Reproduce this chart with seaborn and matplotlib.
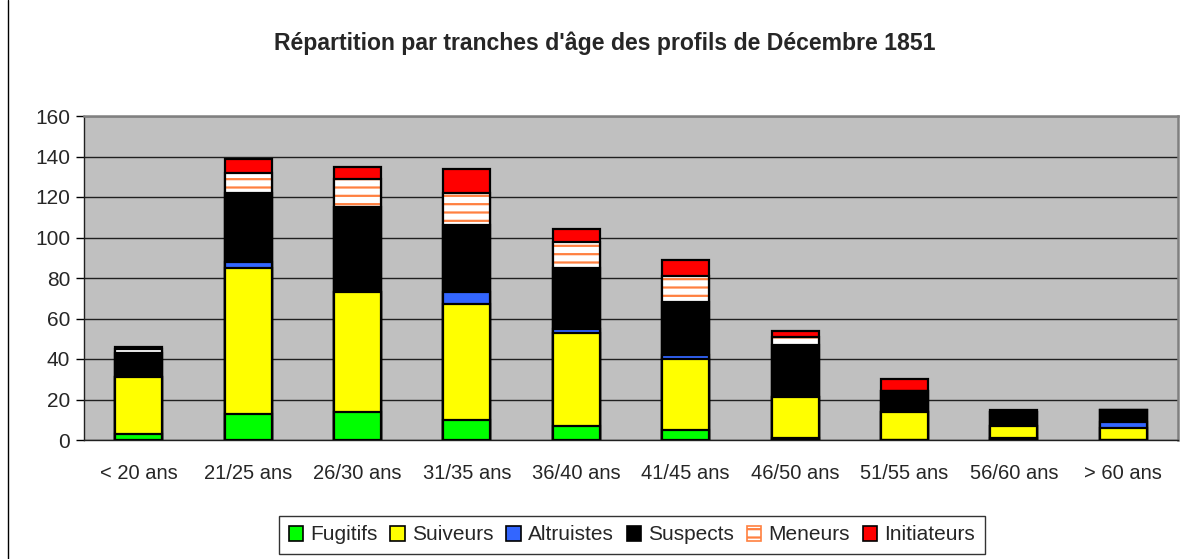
import matplotlib
matplotlib.use("Agg")
import matplotlib.pyplot as plt
import seaborn as sns
import pandas as pd
import numpy as np
from matplotlib.patches import Patch
from matplotlib.lines import Line2D

categories = ['< 20 ans', '21/25 ans', '26/30 ans', '31/35 ans', '36/40 ans',
              '41/45 ans', '46/50 ans', '51/55 ans', '56/60 ans', '> 60 ans']
fugitifs = [3, 13, 14, 10, 7, 5, 1, 0, 1, 0]
suiveurs = [28, 72, 59, 57, 46, 35, 20, 14, 6, 6]
altruistes = [0, 3, 0, 6, 2, 2, 0, 0, 0, 3]
suspects = [12, 34, 42, 33, 30, 26, 26, 10, 7, 6]
meneurs = [2, 10, 14, 16, 13, 13, 4, 0, 0, 0]
initiateurs = [1, 7, 6, 12, 6, 8, 3, 6, 1, 0]

series_names = ['Fugitifs', 'Suiveurs', 'Altruistes', 'Suspects', 'Meneurs', 'Initiateurs']
series_vals = [fugitifs, suiveurs, altruistes, suspects, meneurs, initiateurs]
colors = ['#00FF00', '#FFFF00', '#3366FF', '#000000', '#FFFFFF', '#FF0000']
orange = '#FF8040'

sns.set_style("white")
plt.rcParams['font.family'] = ['Liberation Sans', 'DejaVu Sans']
plt.rcParams['hatch.linewidth'] = 1.6

fig = plt.figure(figsize=(11.83, 5.59), dpi=100)
ax = fig.add_axes([84/1183, 1-440/559, (1178-84)/1183, (440-116)/559])
ax.set_facecolor('#C0C0C0')

cum = np.cumsum(np.array(series_vals), axis=0)
bw = 0.43
for i in range(len(series_names) - 1, -1, -1):
    df = pd.DataFrame({'cat': categories, 'val': cum[i]})
    if series_names[i] == 'Meneurs':
        sns.barplot(data=df, x='cat', y='val', order=categories, color='white',
                    width=bw, edgecolor=orange, linewidth=0, hatch='--',
                    saturation=1, ax=ax, zorder=3)
        sns.barplot(data=df, x='cat', y='val', order=categories, fill=False,
                    width=bw, edgecolor='black', linewidth=1.6, ax=ax, zorder=3)
    else:
        sns.barplot(data=df, x='cat', y='val', order=categories, color=colors[i],
                    width=bw, edgecolor='black', linewidth=1.6, saturation=1,
                    ax=ax, zorder=3)

ax.set_ylim(0, 160)
ax.set_xlim(-0.5, len(categories) - 0.5)
ax.set_yticks(np.arange(0, 161, 20))
ax.yaxis.grid(True, color='#202020', linewidth=1.0, zorder=0)
ax.xaxis.grid(False)
ax.set_axisbelow(True)
ax.set_xlabel('')
ax.set_ylabel('')

ax.set_xticks(np.arange(len(categories)))
ax.set_xticklabels(categories, fontsize=14.5)
ax.set_xticks(np.arange(-0.5, len(categories), 1.0), minor=True)
ax.tick_params(axis='x', which='major', length=0, pad=17)
ax.tick_params(axis='x', which='minor', length=6, width=1, color='black', direction='out')
ax.tick_params(axis='y', length=6, width=1, color='black', direction='out', labelsize=15, pad=4)
ax.tick_params(axis='both', bottom=True, left=True)

for s in ['top', 'right']:
    ax.spines[s].set_color('#808080')
    ax.spines[s].set_linewidth(1.8)
for s in ['left', 'bottom']:
    ax.spines[s].set_color('#202020')
    ax.spines[s].set_linewidth(1.0)

fig.text(605/1183, 1-43/559, "Répartition par tranches d'âge des profils de Décembre 1851",
         ha='center', va='center', fontsize=16.6, fontweight='bold')

handles = []
for name, c in zip(series_names, colors):
    if name == 'Meneurs':
        handles.append(Patch(facecolor='white', edgecolor=orange, hatch='--', linewidth=1.2))
    else:
        handles.append(Patch(facecolor=c, edgecolor='black', linewidth=1.2))
leg = fig.legend(handles, series_names, loc='center', bbox_to_anchor=(632/1183, 1-535/559),
                 ncol=6, fontsize=15, frameon=True, fancybox=False,
                 handlelength=0.7, handleheight=0.7, handletextpad=0.35,
                 columnspacing=0.6, borderpad=0.45)
leg.get_frame().set_edgecolor('#000000')
leg.get_frame().set_linewidth(1.0)

fig.add_artist(Line2D([8/1183, 8/1183], [0, 1], transform=fig.transFigure,
                      color='black', linewidth=1.0))

fig.savefig('out.png', dpi=100)
